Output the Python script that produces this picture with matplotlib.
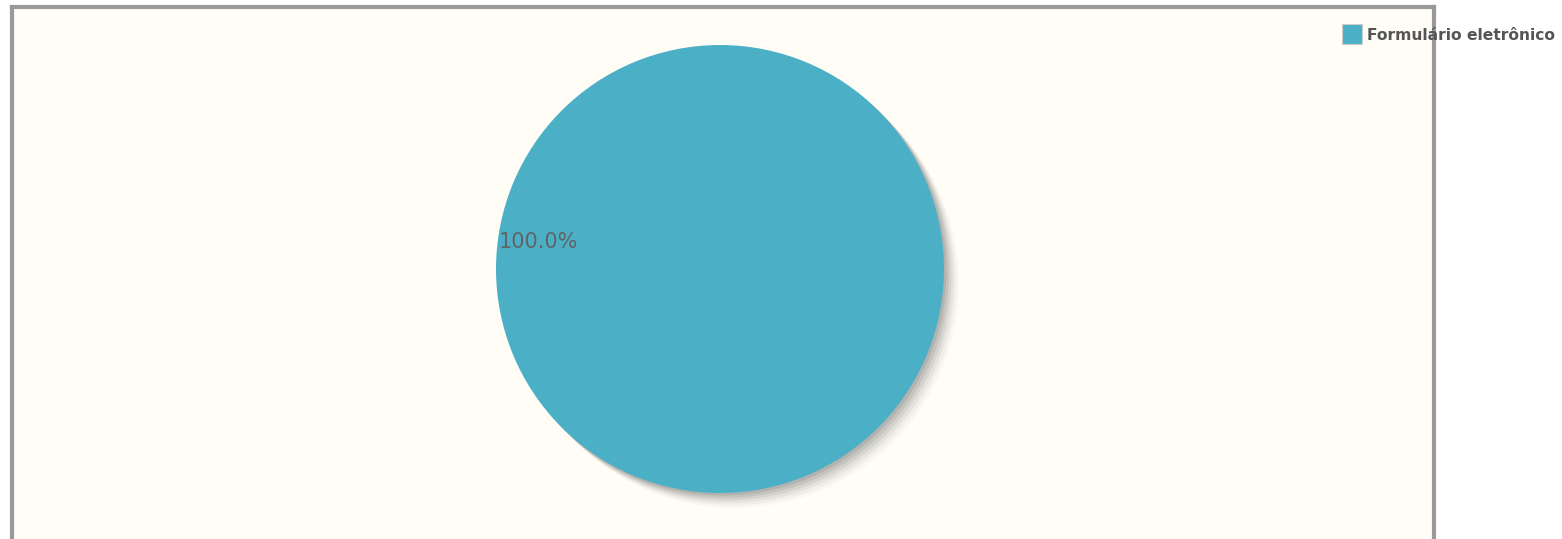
import matplotlib
matplotlib.use("Agg")
import matplotlib.pyplot as plt
from matplotlib.patches import Circle
from matplotlib.lines import Line2D

categories = ["Formulário eletrônico"]
values = [100.0]
colors = ["#4bb0c6"]

W, H = 1562, 539
fig = plt.figure(figsize=(W / 100, H / 100), dpi=100)
fig.patch.set_facecolor("white")

# plot-area background with grey border (bottom border below the visible image)
bg = fig.add_axes([12 / W, -0.1, (1434 - 12) / W, 1 - 7 / H + 0.1])
bg.set_facecolor("#fffdf6")
bg.set_xticks([]); bg.set_yticks([])
for side in ["left", "top", "right"]:
    bg.spines[side].set_color("#999999")
    bg.spines[side].set_linewidth(3)
bg.spines["bottom"].set_visible(False)

# pie axes: centre (720, 269), radius 224 px
cx, cy, r = 720, 269, 224
ax = fig.add_axes([(cx - r) / W, 1 - (cy + r) / H, 2 * r / W, 2 * r / H])
ax.set_xlim(-1, 1); ax.set_ylim(-1, 1)
ax.set_aspect("equal")
ax.axis("off")
ax.patch.set_alpha(0)

# soft shadow toward lower-right
for i, a in enumerate([0.18, 0.15, 0.12, 0.09, 0.06, 0.04]):
    off = (i + 1) * 0.011
    ax.add_patch(Circle((off, -off), 1.0, color="#6a6a6a", alpha=a, lw=0,
                        zorder=0, clip_on=False))

wedges, texts, autotexts = ax.pie(
    values, colors=colors, startangle=-8.4, autopct="%.1f%%", pctdistance=0.82,
    radius=1.0, wedgeprops=dict(linewidth=0, clip_on=False),
    textprops=dict(color="#5f6468", fontsize=15))
for w in wedges:
    w.set_zorder(2)
for t in autotexts:
    t.set_zorder(3)
ax.set_xlim(-1, 1); ax.set_ylim(-1, 1)

# legend
handles = [Line2D([0], [0], marker="s", linestyle="none", markersize=14,
                  markerfacecolor=c, markeredgecolor="#cccccc", markeredgewidth=0.8)
           for c in colors]
fig.legend(handles, categories, loc="upper left", bbox_to_anchor=(1333 / W, 1 - 20 / H),
           frameon=False, handletextpad=0.3, borderpad=0, handlelength=1.4,
           prop=dict(size=11.2, weight="bold"), labelcolor="#555555")

fig.savefig("out.png", dpi=100)
